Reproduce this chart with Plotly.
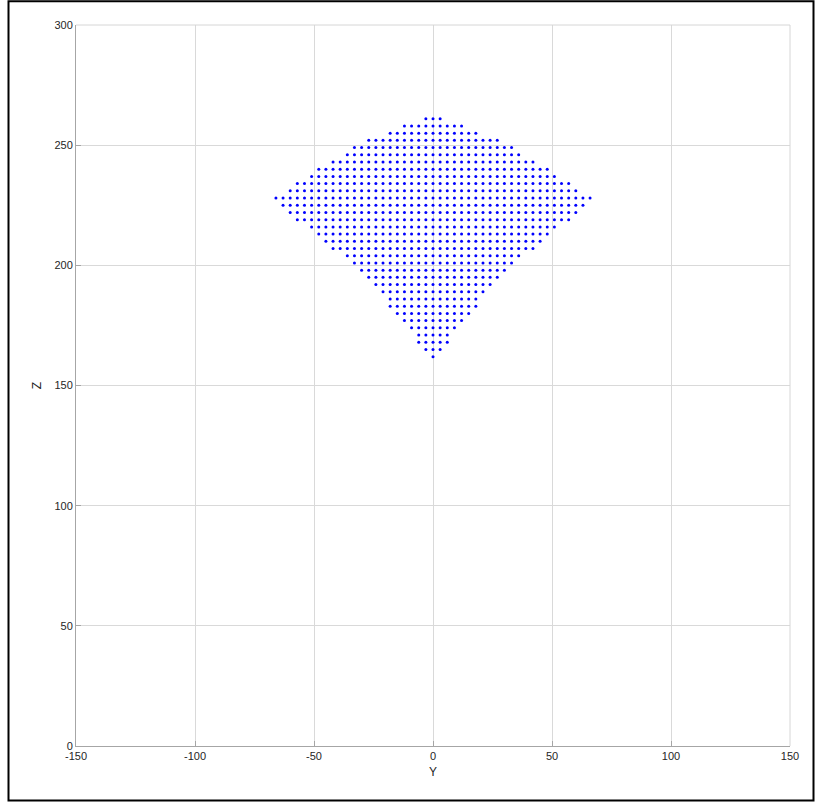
import plotly.graph_objects as go

# ---- data ----
# rows of the dot lattice (Z value of each row, top to bottom)
row_z = [261, 258, 255, 252, 249, 246, 243, 240, 237, 234, 231, 228,
         225, 222, 219, 216, 213, 210, 207, 204, 201, 198, 195, 192,
         189, 186, 183, 180, 177, 174, 171, 168, 165, 162]
# half extent in Y of each row (dots run from -half to +half)
row_half = [3, 12, 18, 27, 33, 36, 42, 48, 51, 57, 60, 66,
            63, 60, 57, 51, 48, 45, 42, 36, 33, 30, 27, 24,
            21, 18, 18, 15, 12, 9, 6, 6, 3, 0]
col_step = 3  # spacing of the lattice columns in Y

x_ticks = [-150, -100, -50, 0, 50, 100, 150]
y_ticks = [0, 50, 100, 150, 200, 250, 300]

# expand rows into points
ys, zs = [], []
for z, h in zip(row_z, row_half):
    v = -h
    while v <= h:
        ys.append(v)
        zs.append(z)
        v += col_step

fig = go.Figure()
fig.add_trace(go.Scatter(
    x=ys, y=zs, mode="markers",
    marker=dict(color="#0000ff", size=3, line=dict(width=0)),
    hoverinfo="skip", showlegend=False,
))

W, H = 815, 803
L, R, T, B = 76, 25, 25, 57
pw, ph = W - L - R, H - T - B

def px(xp):
    return (xp - L) / pw

def py(yp):
    return (H - B - yp) / ph

FONT = "Liberation Sans, Arial, sans-serif"
axis_common = dict(
    showgrid=True, gridcolor="#d9d9d9", gridwidth=1,
    zeroline=False, showline=True, linecolor="#a6a6a6", linewidth=1,
    ticks="inside", ticklen=5, tickcolor="#a6a6a6",
    tickfont=dict(family=FONT, size=11, color="#262626"),
    mirror=False,
)

fig.update_layout(
    width=W, height=H,
    margin=dict(l=L, r=R, t=T, b=B, pad=0),
    paper_bgcolor="white", plot_bgcolor="white",
    xaxis=dict(range=[-150, 150], tickvals=x_ticks, ticktext=[str(v) for v in x_ticks],
               title=dict(text="Y", font=dict(family=FONT, size=12, color="#262626"), standoff=6),
               **axis_common),
    yaxis=dict(range=[0, 300], tickvals=y_ticks, ticktext=[str(v) for v in y_ticks],
               title=dict(text="Z", font=dict(family=FONT, size=12, color="#262626"), standoff=10),
               **axis_common),
    shapes=[
        # top and right box lines (lighter)
        dict(type="line", xref="paper", yref="paper", x0=0, x1=1, y0=1, y1=1,
             line=dict(color="#d6d6d6", width=1)),
        dict(type="line", xref="paper", yref="paper", x0=1, x1=1, y0=0, y1=1,
             line=dict(color="#d6d6d6", width=1)),
        # outer black frame of the picture
        dict(type="rect", xref="paper", yref="paper",
             x0=px(8.5), x1=px(813.5), y0=py(800.5), y1=py(1.2),
             line=dict(color="black", width=2), fillcolor="rgba(0,0,0,0)", layer="above"),
    ],
)

fig.write_html(
    "out.html",
    config={"displayModeBar": False, "staticPlot": True},
    post_script="document.body.style.margin='0';document.body.style.overflow='hidden';",
)
